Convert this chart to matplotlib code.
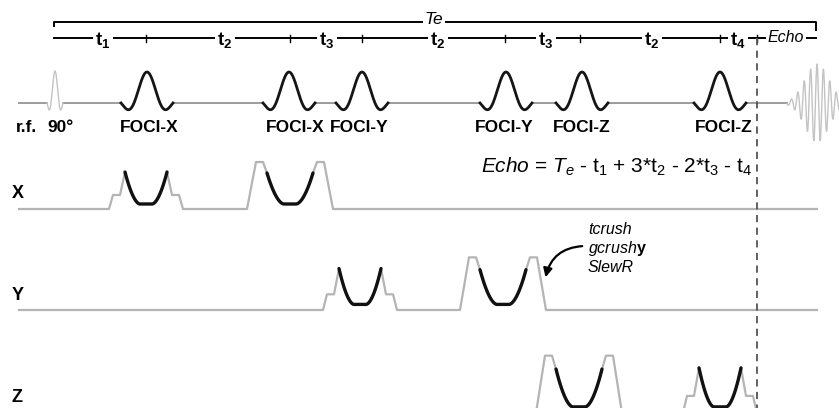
import numpy as np
import matplotlib.pyplot as plt

plt.rcParams['font.family'] = ['Liberation Sans', 'DejaVu Sans']
plt.rcParams['mathtext.fontset'] = 'custom'
plt.rcParams['mathtext.rm'] = 'Liberation Sans'
plt.rcParams['mathtext.it'] = 'Liberation Sans:italic'
plt.rcParams['mathtext.bf'] = 'Liberation Sans:bold'

# sequence timing, in drawing units along the time axis
t_start = 19
t_stop = 817
t_excite = 55
foci_centers = [147, 289, 362, 506, 582, 720]
foci_labels = ['FOCI-X', 'FOCI-X', 'FOCI-Y', 'FOCI-Y', 'FOCI-Z', 'FOCI-Z']
foci_label_x = [149, 295, 359, 504, 582, 724]
t_echo_mark = 757
t_echo = 817
te_start = 54
te_stop = 816

interval_ticks = [146, 290, 362, 505, 580, 720, 757]
interval_labels = [r'$\mathbf{t_1}$', r'$\mathbf{t_2}$', r'$\mathbf{t_3}$', r'$\mathbf{t_2}$',
                   r'$\mathbf{t_3}$', r'$\mathbf{t_2}$', r'$\mathbf{t_4}$']
interval_label_x = [103, 225, 327, 438, 546, 652, 738]

# gradient lobes per channel: centre, lobe type (A = plain, B = with crushers)
grad_names = ['X', 'Y', 'Z']
grad_centers = [[146, 290], [360, 503], [579, 720]]
grad_kinds = [['A', 'B'], ['A', 'B'], ['B', 'A']]
grad_scale = [1.0, 1.12, 1.22]

# lobe outlines: (offset from centre, height)
lobe_outline = {
    'A': [(37, 0), (33, 14), (26, 14), (21, 37)],
    'B': [(43, 0), (34, 47), (27, 47), (23, 36)],
}
u_bottom = 5

rf_row = 103
grad_rows = [209, 310, 413]

GRAY = '#b4b4b4'
BASE = '#9c9c9c'


def sinc_pulse(x, c, a, amp):
    u = (x - c) / a
    return amp * np.sinc(u)


def u_shape(d, w, top, bottom):
    u = np.clip((d - 6) / (w - 6), 0, 1)
    return bottom + (top - bottom) * u ** 1.8


fig = plt.figure(figsize=(8.39, 4.08), dpi=100)
ax = fig.add_axes([0, 0, 1, 1])
ax.set_xlim(0, 839)
ax.set_ylim(408, 0)
ax.axis('off')

# Te bracket
ax.plot([te_start, te_start, te_stop, te_stop], [26, 22, 22, 30], color='k', lw=1.4)
ax.text(434, 20, 'Te', style='italic', fontsize=12.5, ha='center', va='center',
        bbox=dict(fc='white', ec='none', pad=1.5))

# interval line
ax.plot([te_start, te_stop], [38, 38], color='k', lw=1.4)
for xt in interval_ticks:
    ax.plot([xt, xt], [35, 42], color='k', lw=1)
for lab, xl in zip(interval_labels, interval_label_x):
    ax.text(xl, 40, lab, fontsize=13.5, ha='center', va='center',
            bbox=dict(fc='white', ec='none', pad=1.5))
ax.text(786, 38, 'Echo', style='italic', fontsize=11.5, ha='center', va='center',
        bbox=dict(fc='white', ec='none', pad=1.5))

# r.f. channel
a_foci = 13
spans = [(t_excite - 8, t_excite + 8)] + [(c - 2 * a_foci, c + 2 * a_foci) for c in foci_centers]
xb = np.arange(t_start, 787.01, 0.25)
yb = np.full_like(xb, rf_row, dtype=float)
for lo, hi in spans:
    yb[(xb > lo) & (xb < hi)] = np.nan
ax.plot(xb, yb, color=BASE, lw=1.4)

xe = np.linspace(t_excite - 8, t_excite + 8, 200)
ax.plot(xe, rf_row - sinc_pulse(xe, t_excite, 4, 32), color='#c4c4c4', lw=1.0)
for c in foci_centers:
    xp = np.linspace(c - 2 * a_foci, c + 2 * a_foci, 300)
    ax.plot(xp, rf_row - sinc_pulse(xp, c, a_foci, 31), color='#151515', lw=2.0)

xs = np.arange(787, 845, 0.1)
ys = rf_row - 39 * np.exp(-0.5 * ((xs - t_echo) / 12) ** 2) * np.cos(2 * np.pi * (xs - t_echo) / 6.4)
ax.plot(xs, ys, color='#c4c4c4', lw=1.0)

ax.text(16, 128, 'r.f.', fontsize=12.5, fontweight='bold', ha='left', va='center')
ax.text(47, 128, '90°', fontsize=12.5, fontweight='bold', ha='left', va='center')
for lab, xl in zip(foci_labels, foci_label_x):
    ax.text(xl, 128, lab, fontsize=12.5, fontweight='bold', ha='center', va='center')

# gradient channels
for name, row, centers, kinds, s in zip(grad_names, grad_rows, grad_centers, grad_kinds, grad_scale):
    px, py = [t_start], [0.0]
    u_parts = []
    for c, k in zip(centers, kinds):
        pts = lobe_outline[k]
        for d, h in pts:
            px.append(c - d)
            py.append(h)
        w, top = pts[-1]
        xu = np.linspace(c - w, c + w, 120)
        hu = u_shape(np.abs(xu - c), w, top, u_bottom)
        px.extend(xu)
        py.extend(hu)
        u_parts.append((xu, hu))
        for d, h in pts[::-1]:
            px.append(c + d)
            py.append(h)
    px.append(t_stop)
    py.append(0.0)
    ax.plot(px, row - s * np.array(py), color=GRAY, lw=1.6, solid_joinstyle='round')
    for xu, hu in u_parts:
        ax.plot(xu, row - s * hu, color='#111111', lw=2.4, solid_capstyle='round')
    ax.text(12, row - 15, name, fontsize=13, fontweight='bold', ha='left', va='center')

# echo marker
ax.plot([t_echo_mark, t_echo_mark], [38, 420], color='#555555', lw=1.3, dashes=(4, 3))

# timing equation and crusher note
ax.text(752, 173, r'$\mathit{Echo}$ = $\mathit{T_e}$ - t$_1$ + 3*t$_2$ - 2*t$_3$ - t$_4$',
        fontsize=15, ha='right', va='baseline')
ax.text(588, 229, 'tcrush', style='italic', fontsize=11.5, ha='left', va='center')
ax.text(588, 248, r'$\mathit{gcrush}\mathbf{y}$', fontsize=11.5, ha='left', va='center')
ax.text(588, 267, 'SlewR', style='italic', fontsize=11.5, ha='left', va='center')
ax.annotate('', xy=(545, 280), xytext=(585, 246),
            arrowprops=dict(arrowstyle='-|>', connectionstyle='arc3,rad=0.4',
                            color='k', lw=1.6, mutation_scale=13))

fig.savefig('out.png', dpi=100)
